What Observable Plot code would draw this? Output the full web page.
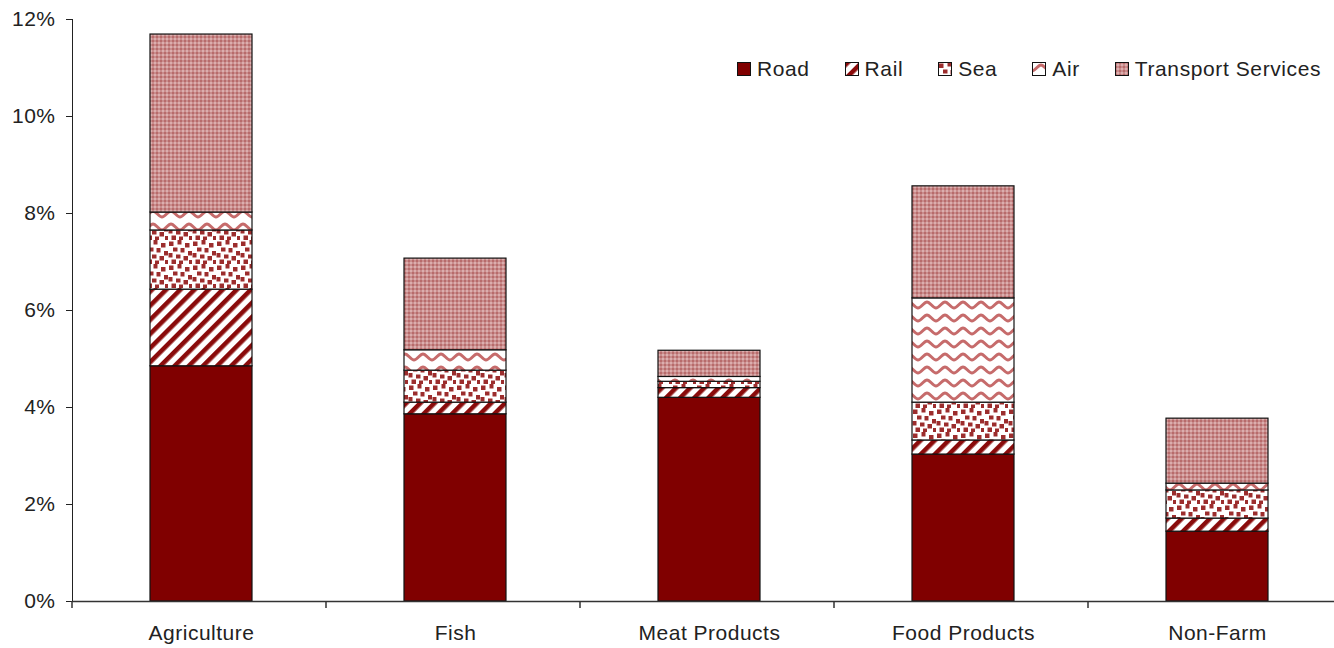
<!DOCTYPE html>
<html>
<head>
<meta charset="utf-8">
<script src="https://cdn.jsdelivr.net/npm/d3@7"></script>
<script src="https://cdn.jsdelivr.net/npm/@observablehq/plot@0.6"></script>
<style>
  html, body { margin: 0; padding: 0; background: #fff; }
  body { font-family: "Liberation Sans", Arial, sans-serif; }
  #wrap { position: relative; width: 1334px; height: 648px; overflow: hidden; }
  #legend { position: absolute; left: 737px; top: 57px; display: flex; align-items: center;
            font-size: 21px; letter-spacing: 0.6px; color: #222; white-space: nowrap; }
  #legend .item { display: flex; align-items: center; }
  #legend svg { margin-right: 6px; }
</style>
</head>
<body>
<svg width="0" height="0" style="position:absolute">
  <defs>
    <pattern id="p-rail" width="10" height="10" patternUnits="userSpaceOnUse" patternTransform="rotate(45)">
      <rect width="10" height="10" fill="#fff"/>
      <rect width="4.6" height="10" fill="#8a0b0b"/>
    </pattern>
    <pattern id="p-sea" width="24" height="24" patternUnits="userSpaceOnUse">
      <rect width="24" height="24" fill="#fff"/>
      <g fill="#8e1010" opacity="0.88">
        <rect x="1" y="1.5" width="4.5" height="4.5"/>
        <rect x="9.5" y="0" width="4" height="4.5"/>
        <rect x="17" y="3" width="4.5" height="4.5"/>
        <rect x="5" y="7.5" width="4.5" height="4"/>
        <rect x="12.5" y="8" width="4" height="4.5"/>
        <rect x="20" y="11" width="4" height="4.5"/>
        <rect x="0.5" y="13" width="4" height="4.5"/>
        <rect x="8" y="14.5" width="4.5" height="4"/>
        <rect x="15.5" y="16" width="4.5" height="4.5"/>
        <rect x="3.5" y="19.5" width="4.5" height="4.5"/>
        <rect x="11" y="20.5" width="4" height="3.5"/>
        <rect x="21" y="20" width="3" height="4"/>
      </g>
    </pattern>
    <pattern id="p-air" width="18" height="13" patternUnits="userSpaceOnUse">
      <rect width="18" height="13" fill="#fff"/>
      <path d="M0,9 C3,9 6,3 9,3 C12,3 15,9 18,9" fill="none" stroke="#b84646" stroke-width="3" opacity="0.8"/>
    </pattern>
    <pattern id="p-ts" width="4" height="4" patternUnits="userSpaceOnUse">
      <rect width="4" height="4" fill="#c98d8d"/>
      <rect x="0" y="0" width="2" height="2" fill="#b86b6b"/>
      <rect x="2" y="2" width="2" height="2" fill="#dcaeae"/>
    </pattern>
  </defs>
</svg>
<div id="wrap">
  <div id="chart"></div>
  <div id="legend"></div>
</div>
<script>
const categories = ["Agriculture", "Fish", "Meat Products", "Food Products", "Non-Farm"];
const series = ["Road", "Rail", "Sea", "Air", "Transport Services"];
const road = [4.85, 3.86, 4.20, 3.03, 1.44];
const rail = [1.58, 0.24, 0.20, 0.29, 0.27];
const sea  = [1.22, 0.66, 0.13, 0.78, 0.58];
const air  = [0.37, 0.42, 0.10, 2.15, 0.14];
const transportServices = [3.67, 1.89, 0.54, 2.31, 1.34];
const yTicks = [0, 2, 4, 6, 8, 10, 12];

const seriesValues = [road, rail, sea, air, transportServices];
const fills = ["#800000", "url(#p-rail)", "url(#p-sea)", "url(#p-air)", "url(#p-ts)"];

const data = categories.flatMap((c, i) =>
  series.map((s, j) => ({category: c, series: s, value: seriesValues[j][i]})));

const chart = Plot.plot({
  width: 1334,
  height: 648,
  marginLeft: 72,
  marginRight: -11,
  marginTop: 19,
  marginBottom: 47,
  style: {fontFamily: "'Liberation Sans', Arial, sans-serif", fontSize: "21px", letterSpacing: "0.5px", color: "#222", background: "#fff"},
  x: {domain: categories, paddingInner: 0.6, paddingOuter: 0.3, label: null, tickSize: 0, tickPadding: 24},
  y: {domain: [0, 12], ticks: yTicks, tickFormat: d => d + "%", label: null, tickSize: 6, tickPadding: 11, line: true},
  color: {domain: series, range: fills},
  marks: [
    Plot.barY(data, Plot.stackY({order: series}, {
      x: "category", y: "value", z: "series", fill: "series",
      stroke: "#111", strokeWidth: 1.2
    })),
    Plot.ruleY([0], {stroke: "#333", strokeWidth: 1.5})
  ]
});
document.getElementById("chart").appendChild(chart);

// category boundary ticks on the x axis
const xs = chart.scale("x");
const ys = chart.scale("y");
const y0 = ys.apply(0);
const g = d3.select(chart).append("g").attr("stroke", "#333").attr("stroke-width", 1.5);
for (let i = 0; i <= categories.length; i++) {
  const bx = xs.range[0] + i * xs.step;
  g.append("line").attr("x1", bx).attr("x2", bx).attr("y1", y0).attr("y2", y0 + 7);
}

// legend
const legend = document.getElementById("legend");
series.forEach((s, j) => {
  const item = document.createElement("div");
  item.className = "item";
  item.style.marginRight = j < series.length - 1 ? "35px" : "0";
  item.innerHTML = `<svg width="14" height="14"><rect x="0.5" y="0.5" width="13" height="13" fill="${fills[j]}" stroke="#111" stroke-width="1"/></svg><span>${s}</span>`;
  legend.appendChild(item);
});
</script>
</body>
</html>
